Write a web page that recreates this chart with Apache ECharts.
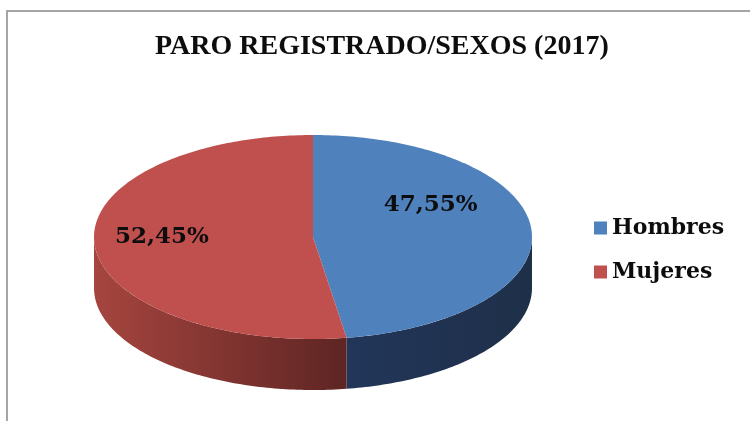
<!DOCTYPE html>
<html>
<head>
<meta charset="utf-8">
<script src="https://cdn.jsdelivr.net/npm/echarts@6/dist/echarts.min.js"></script>
<style>
  html, body { margin: 0; padding: 0; background: #fff; }
  #chart { width: 750px; height: 421px; }
</style>
</head>
<body>
<div id="chart"></div>
<script>
// datos
var categories = ['Hombres', 'Mujeres'];
var values = [47.55, 52.45];
var valueLabels = ['47,55%', '52,45%'];
var titleText = 'PARO REGISTRADO/SEXOS (2017)';

// colores de cada sector (arriba / lateral)
var topColors = ['#4F81BD', '#C0504D'];
var sideColors = [['#22365A', '#1E2F48'], ['#A6453F', '#5E2523']];

var myChart = echarts.init(document.getElementById('chart'));

// geometría del pastel 3D
var pie = { cx: 313, cy: 237, rx: 219, ry: 102, depth: 51 };
// donde va la etiqueta: [ángulo en grados desde arriba, fracción del radio]
var labelPos = [[60, 0.62], [270, 0.69]];

var total = values.reduce(function (a, b) { return a + b; }, 0);

function pt(theta, dy) {
    return [pie.cx + pie.rx * Math.sin(theta), pie.cy - pie.ry * Math.cos(theta) + (dy || 0)];
}

function arc(a, b, dy) {
    var pts = [];
    var n = Math.max(2, Math.ceil((b - a) / (Math.PI / 180)));
    for (var i = 0; i <= n; i++) {
        pts.push(pt(a + (b - a) * i / n, dy));
    }
    return pts;
}

function makeRender(k) {
    return function (params, api) {
        var before = 0;
        for (var i = 0; i < k; i++) before += values[i];
        var start = before / total * Math.PI * 2;
        var end = start + api.value(0) / total * Math.PI * 2;
        var children = [];

        // lateral (solo la mitad delantera)
        var a = Math.max(start, Math.PI / 2);
        var b = Math.min(end, Math.PI * 3 / 2);
        if (a < b) {
            var side = arc(a, b, 0).concat(arc(a, b, pie.depth).reverse());
            var x0 = pt(a)[0], x1 = pt(b)[0];
            var c0 = sideColors[k][0], c1 = sideColors[k][1];
            if (x0 > x1) { var t = x0; x0 = x1; x1 = t; }
            children.push({
                type: 'polygon',
                shape: { points: side },
                style: {
                    fill: new echarts.graphic.LinearGradient(x0, 0, x1, 0, [
                        { offset: 0, color: c0 }, { offset: 1, color: c1 }
                    ], true)
                }
            });
        }

        // cara superior
        var top = [[pie.cx, pie.cy]].concat(arc(start, end, 0));
        children.push({
            type: 'polygon',
            shape: { points: top },
            style: { fill: topColors[k] }
        });

        // etiqueta
        var lp = labelPos[k];
        var p = [pie.cx + lp[1] * pie.rx * Math.sin(lp[0] * Math.PI / 180),
                 pie.cy - lp[1] * pie.ry * Math.cos(lp[0] * Math.PI / 180)];
        children.push({
            type: 'text',
            x: p[0], y: p[1],
            style: {
                text: valueLabels[k],
                fill: '#0D0D0D',
                font: 'bold 23px "DejaVu Serif"',
                align: 'center',
                verticalAlign: 'middle'
            },
            z2: 10
        });

        return { type: 'group', children: children };
    };
}

var series = categories.map(function (name, k) {
    return {
        name: name,
        type: 'custom',
        coordinateSystem: 'none',
        renderItem: makeRender(k),
        itemStyle: { color: topColors[k] },
        data: [values[k]],
        silent: true
    };
});

var option = {
    animation: false,
    backgroundColor: '#fff',
    title: {
        text: titleText,
        left: 150,
        top: 28,
        textStyle: {
            fontFamily: 'Liberation Serif',
            fontWeight: 'bold',
            fontSize: 28,
            color: '#0D0D0D'
        }
    },
    legend: {
        data: categories,
        orient: 'vertical',
        left: 589,
        top: 212,
        itemGap: 22,
        itemWidth: 13,
        itemHeight: 13,
        icon: 'rect',
        textStyle: {
            fontFamily: 'DejaVu Serif',
            fontWeight: 'bold',
            fontSize: 22,
            color: '#0D0D0D'
        }
    },
    graphic: [{
        type: 'rect',
        shape: { x: 7, y: 11, width: 800, height: 500 },
        style: { fill: 'none', stroke: '#A6A6A6', lineWidth: 2 },
        silent: true
    }],
    series: series
};

myChart.setOption(option);

window.addEventListener('resize', function () {
    myChart.resize();
});
</script>
</body>
</html>
